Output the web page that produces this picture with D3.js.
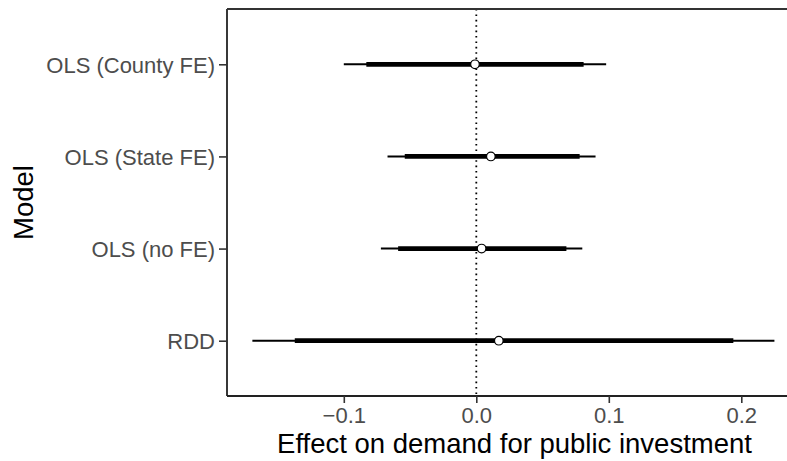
<!DOCTYPE html>
<html>
<head>
<meta charset="utf-8">
<script src="https://cdn.jsdelivr.net/npm/d3@7"></script>
<style>
  body { margin: 0; background: #fff; }
  text { font-family: "Liberation Sans", Arial, sans-serif; }
</style>
</head>
<body>
<script>
// model rows, top to bottom
var models = ["OLS (County FE)", "OLS (State FE)", "OLS (no FE)", "RDD"];
var estimates = [-0.001, 0.011, 0.004, 0.017];
var innerLow = [-0.083, -0.054, -0.059, -0.137];
var innerHigh = [0.081, 0.078, 0.068, 0.194];
var outerLow = [-0.100, -0.067, -0.072, -0.169];
var outerHigh = [0.098, 0.090, 0.080, 0.225];
var xTicks = [-0.1, 0.0, 0.1, 0.2];

var W = 787, H = 461;
// panel runs past the right edge of the picture (the reference is cropped)
var margin = { top: 9, right: -15, bottom: 65, left: 227 };
var width = W - margin.left - margin.right,
    height = H - margin.top - margin.bottom;

var svg = d3.select("body").append("svg")
    .attr("width", W).attr("height", H);

var g = svg.append("g")
    .attr("transform", "translate(" + margin.left + "," + margin.top + ")");

// x: 0.0 sits at ~476px, 0.1 every ~132.5px
var x = d3.scaleLinear()
    .domain([(227 - 476.3) / 1325, (802 - 476.3) / 1325])
    .range([0, width]);

var y = d3.scalePoint()
    .domain(models)
    .range([0, height])
    .padding(0.6);

var rows = models.map(function (m, i) {
    return { model: m, est: estimates[i], lo1: innerLow[i], hi1: innerHigh[i], lo2: outerLow[i], hi2: outerHigh[i] };
});

// zero reference line
g.append("line")
    .attr("x1", x(0)).attr("x2", x(0))
    .attr("y1", 0).attr("y2", height)
    .attr("stroke", "#000")
    .attr("stroke-width", 1.8)
    .attr("stroke-dasharray", "1.6,3.8");

g.selectAll(".outer").data(rows).enter().append("line")
    .attr("class", "outer")
    .attr("x1", d => x(d.lo2)).attr("x2", d => x(d.hi2))
    .attr("y1", d => y(d.model)).attr("y2", d => y(d.model))
    .attr("stroke", "#000").attr("stroke-width", 2.1);

g.selectAll(".inner").data(rows).enter().append("line")
    .attr("class", "inner")
    .attr("x1", d => x(d.lo1)).attr("x2", d => x(d.hi1))
    .attr("y1", d => y(d.model)).attr("y2", d => y(d.model))
    .attr("stroke", "#000").attr("stroke-width", 4.8);

g.selectAll(".pt").data(rows).enter().append("circle")
    .attr("class", "pt")
    .attr("cx", d => x(d.est)).attr("cy", d => y(d.model))
    .attr("r", 4.3)
    .attr("fill", "#fff").attr("stroke", "#000").attr("stroke-width", 1.2);

// axes
var xAxis = g.append("g")
    .attr("transform", "translate(0," + height + ")")
    .call(d3.axisBottom(x).tickValues(xTicks).tickSize(7).tickPadding(4)
        .tickFormat(function (d) { return d === 0 ? "0.0" : d3.format(".1f")(d).replace("-", "\u2212"); }));

var yAxis = g.append("g")
    .call(d3.axisLeft(y).tickSize(8).tickPadding(4));

[xAxis, yAxis].forEach(function (a) {
    a.select(".domain").attr("stroke", "#222").attr("stroke-width", 1.8);
    a.selectAll(".tick line").attr("stroke", "#333").attr("stroke-width", 1.6);
    a.selectAll(".tick text").attr("fill", "#4d4d4d").style("font-size", "22px");
});
xAxis.select(".domain").attr("d", "M0,0H" + width);
yAxis.select(".domain").attr("d", "M0,0V" + height);
yAxis.selectAll(".tick text").attr("dy", "0.36em");

// top border
g.append("line")
    .attr("x1", 0).attr("x2", width)
    .attr("y1", 0).attr("y2", 0)
    .attr("stroke", "#333").attr("stroke-width", 1.8);

// titles
svg.append("text")
    .attr("x", margin.left + width / 2)
    .attr("y", 453)
    .attr("text-anchor", "middle")
    .style("font-size", "27.5px")
    .attr("fill", "#000")
    .text("Effect on demand for public investment");

svg.append("text")
    .attr("transform", "translate(33," + (margin.top + height / 2) + ") rotate(-90)")
    .attr("text-anchor", "middle")
    .style("font-size", "27.5px")
    .attr("fill", "#000")
    .text("Model");
</script>
</body>
</html>
